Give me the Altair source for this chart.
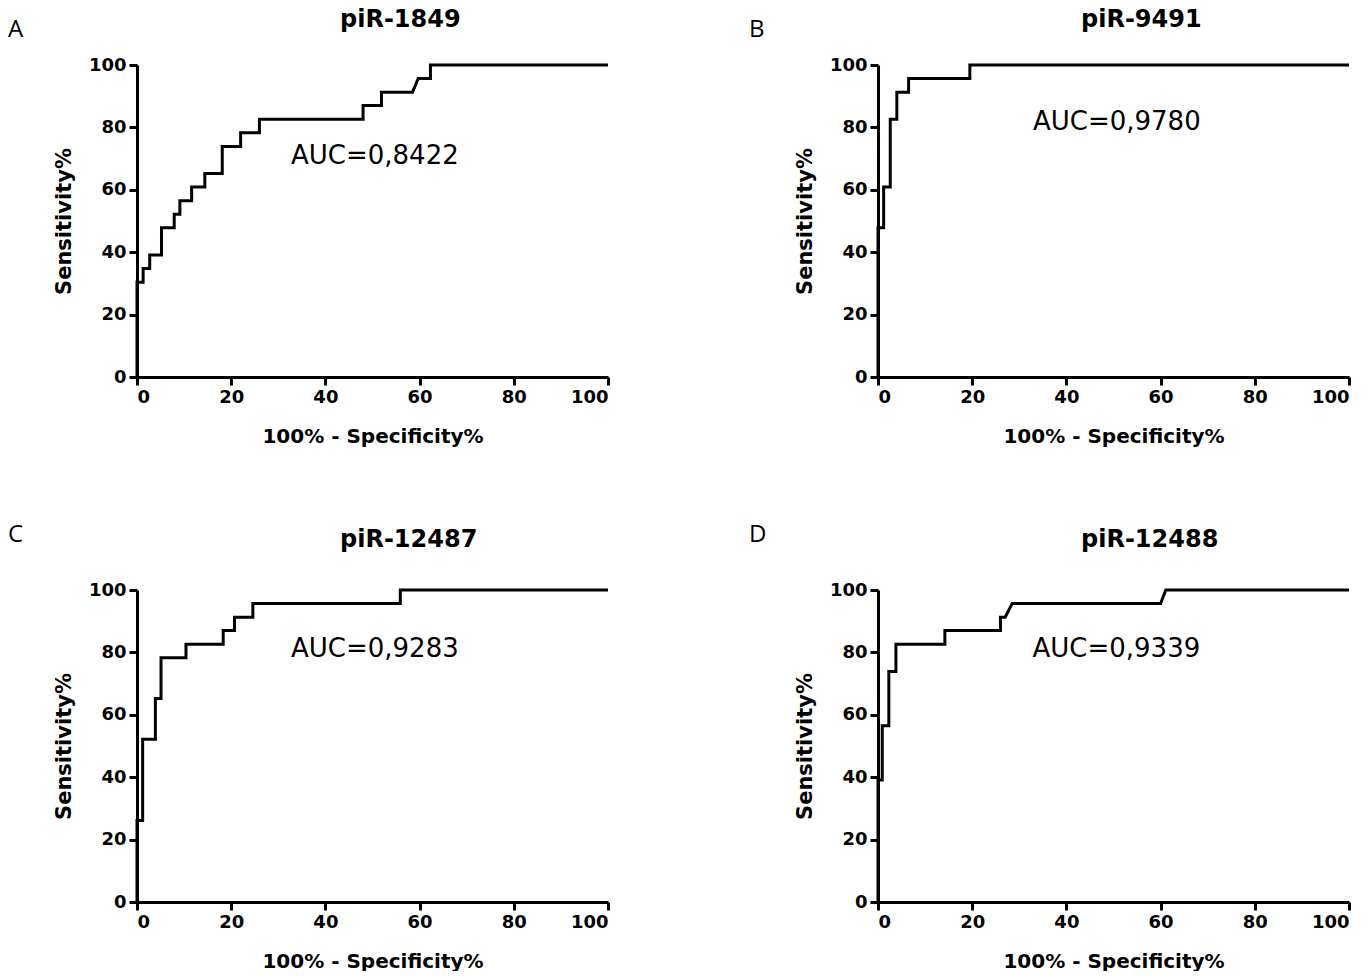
import altair as alt
import pandas as pd

# ROC step curves (100% - Specificity%, Sensitivity%)
a_fpr = [0, 0, 1.3, 1.3, 2.7, 2.7, 5.2, 5.2, 7.9, 7.9, 9.1, 9.1, 11.6, 11.6, 14.4, 14.4,
         18.1, 18.1, 22.0, 22.0, 26.0, 26.0, 48.0, 48.0, 51.9, 51.9, 58.5, 59.7, 62.3, 62.3, 100]
a_sens = [0, 30.4, 30.4, 34.8, 34.8, 39.1, 39.1, 47.8, 47.8, 52.2, 52.2, 56.5, 56.5, 60.9, 60.9, 65.2,
          65.2, 73.9, 73.9, 78.3, 78.3, 82.6, 82.6, 87.0, 87.0, 91.3, 91.3, 95.7, 95.7, 100, 100]

b_fpr = [0, 0, 1.2, 1.2, 2.6, 2.6, 4.0, 4.0, 6.5, 6.5, 19.5, 19.5, 100]
b_sens = [0, 47.8, 47.8, 60.9, 60.9, 82.6, 82.6, 91.3, 91.3, 95.7, 95.7, 100, 100]

c_fpr = [0, 0, 1.2, 1.2, 3.9, 3.9, 5.1, 5.1, 10.4, 10.4, 18.3, 18.3, 20.7, 20.7, 24.6, 24.6, 55.9, 55.9, 100]
c_sens = [0, 26.1, 26.1, 52.2, 52.2, 65.2, 65.2, 78.3, 78.3, 82.6, 82.6, 87.0, 87.0, 91.3, 91.3, 95.7, 95.7, 100, 100]

d_fpr = [0, 0, 0.9, 0.9, 2.3, 2.3, 3.8, 3.8, 14.2, 14.2, 26.0, 26.0, 27.0, 28.5, 60.0, 61.1, 100]
d_sens = [0, 39.1, 39.1, 56.5, 56.5, 73.9, 73.9, 82.6, 82.6, 87.0, 87.0, 91.3, 91.3, 95.7, 95.7, 100, 100]

titles = ["piR-1849", "piR-9491", "piR-12487", "piR-12488"]
letters = ["A", "B", "C", "D"]
auc_labels = ["AUC=0,8422", "AUC=0,9780", "AUC=0,9283", "AUC=0,9339"]
auc_x = [32.7, 32.9, 32.7, 32.8]
auc_y = [68.4, 79.2, 78.5, 78.5]

ticks = [0, 20, 40, 60, 80, 100]
W, H = 471, 312
FONT = "DejaVu Sans"


def panel(fpr, sens, title, letter, auc, ax, ay, letter_y, title_y):
    df = pd.DataFrame({"fpr": fpr, "sens": sens, "ord": list(range(len(fpr)))})
    xs = alt.X("fpr:Q", scale=alt.Scale(domain=[0, 100], nice=False),
               axis=alt.Axis(values=ticks, title="100% - Specificity%"))
    ys = alt.Y("sens:Q", scale=alt.Scale(domain=[0, 100], nice=False),
               axis=alt.Axis(values=ticks, title="Sensitivity%"))
    line = alt.Chart(df).mark_line(color="black", strokeWidth=3, strokeJoin="miter").encode(
        x=xs, y=ys, order="ord:Q")
    tdf = pd.DataFrame({"fpr": [ax], "sens": [ay], "t": [auc]})
    txt = alt.Chart(tdf).mark_text(align="left", baseline="alphabetic", font=FONT,
                                   fontSize=26, color="black").encode(
        x="fpr:Q", y="sens:Q", text="t:N")
    lab = alt.Chart(tdf).mark_text(align="left", baseline="alphabetic", font="Open Sans",
                                   fontSize=24, color="black").encode(
        x=alt.value(-129), y=alt.value(letter_y), text=alt.value(letter))
    ttl = alt.Chart(tdf).mark_text(align="left", baseline="alphabetic", font=FONT,
                                   fontSize=24, fontWeight="bold", color="black").encode(
        x=alt.value(203), y=alt.value(title_y), text=alt.value(title))
    return alt.layer(line, txt, lab, ttl).properties(width=W, height=H)


panels = [
    panel(a_fpr, a_sens, titles[0], letters[0], auc_labels[0], auc_x[0], auc_y[0], -28, -38),
    panel(b_fpr, b_sens, titles[1], letters[1], auc_labels[1], auc_x[1], auc_y[1], -28, -38),
    panel(c_fpr, c_sens, titles[2], letters[2], auc_labels[2], auc_x[2], auc_y[2], -48, -43),
    panel(d_fpr, d_sens, titles[3], letters[3], auc_labels[3], auc_x[3], auc_y[3], -48, -43),
]

chart = alt.concat(*panels, columns=2, spacing={"row": 213, "column": 270},
                   bounds="flush").properties(
    padding={"left": 0, "top": 0, "right": 0, "bottom": 0}
).configure_view(stroke=None).configure_axis(
    domainColor="black", domainWidth=3, tickColor="black", tickWidth=3, tickSize=8,
    labelFont=FONT, labelFontWeight="bold", labelFontSize=18, labelColor="black",
    labelPadding=3, titleFont=FONT, titleFontWeight="bold", titleColor="black",
    grid=False
).configure_axisX(titleFontSize=20, titlePadding=20).configure_axisY(
    titleFontSize=21, titlePadding=14)

chart.save("out.html", embed_options={"renderer": "svg", "actions": False})
